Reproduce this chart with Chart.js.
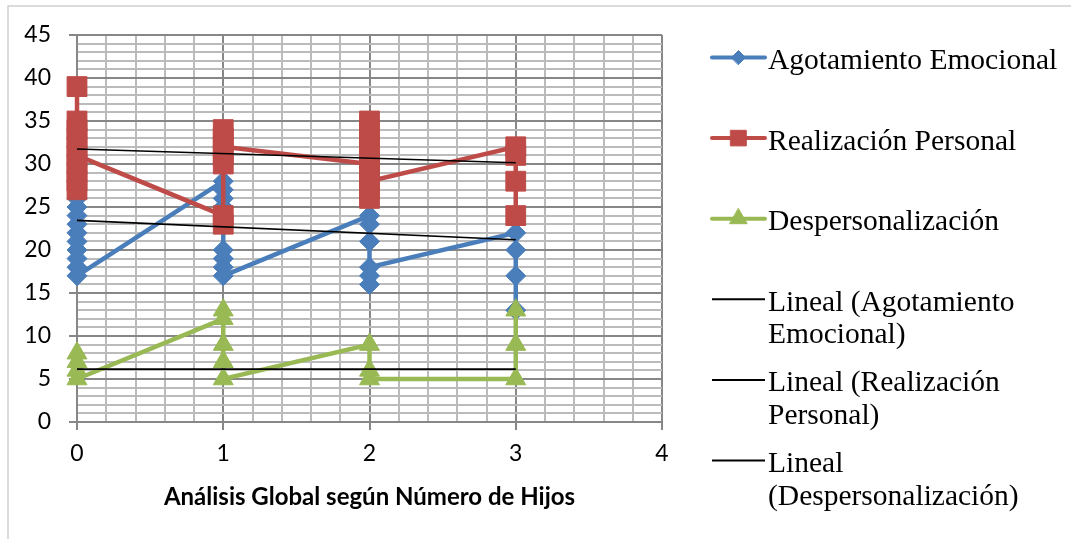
<!DOCTYPE html>
<html>
<head>
<meta charset="utf-8">
<script src="https://cdn.jsdelivr.net/npm/chart.js@4.4.1/dist/chart.umd.min.js"></script>
<style>
  html, body { margin: 0; padding: 0; background: #ffffff; }
  #wrap { width: 1071px; height: 539px; position: relative; }
</style>
</head>
<body>
<div id="wrap"><canvas id="chart" width="1071" height="539"></canvas></div>
<script>
// Number of children (x) and score (y) for each respondent, per burnout scale
const hijosAE   = [0,0,0,0,0,0,0,0,0,0, 1,1,1,1,1,1,1,1, 2,2,2,2,2,2, 3,3,3,3];
const valoresAE = [26,25,24,23,22,21,20,19,18,17, 28,27,26,25,20,19,18,17, 24,23,21,16,17,18, 22,20,17,13];

const hijosRP   = [0,0,0,0,0,0,0,0,0,0, 1,1,1,1,1,1,1, 2,2,2,2,2,2,2,2,2,2, 3,3,3,3];
const valoresRP = [39,35,34,33,32,30,29,28,27,31, 24,23,30,31,33,34,32, 30,35,34,33,32,31,29,27,26,28, 32,31,28,24];

const hijosDP   = [0,0,0,0, 1,1,1,1,1, 2,2,2, 3,3,3];
const valoresDP = [8,7,6,5, 12,13,9,7,5, 9,6,5, 5,9,13];

// Linear trend lines: endpoints at the first and last number of children
const hijosTendencia = [0, 3];
const tendenciaAE = [23.45, 21.2];
const tendenciaRP = [31.75, 30.15];
const tendenciaDP = [6.15, 6.15];

// Axis ticks
const ticksX = [0, 1, 2, 3, 4];
const ticksY = [0, 5, 10, 15, 20, 25, 30, 35, 40, 45];

const seriesNames = ['Agotamiento Emocional', 'Realización Personal', 'Despersonalización'];
const trendNames = ['Lineal (Agotamiento Emocional)', 'Lineal (Realización Personal)', 'Lineal (Despersonalización)'];
const ejeXTitulo = 'Análisis Global según Número de Hijos';

const AZUL = '#4a7ebb', ROJO = '#be4b48', VERDE = '#98b954';
const GRID_MAYOR = '#878787', GRID_MENOR = '#bbbbbb';

const puntos = (xs, ys) => xs.map((x, i) => ({ x: x, y: ys[i] }));
const esEntero = v => Math.abs(v - Math.round(v)) < 1e-6;

function serie(label, xs, ys, color, style, radius, order) {
  return {
    label: label,
    data: puntos(xs, ys),
    showLine: true,
    borderColor: color,
    backgroundColor: color,
    borderWidth: 4.5,
    pointStyle: style,
    pointRadius: radius,
    pointHoverRadius: radius,
    pointBackgroundColor: color,
    pointBorderColor: color,
    pointBorderWidth: 1,
    clip: false,
    order: order,
    legendMarker: { style: style }
  };
}

function tendencia(label, ys) {
  return {
    label: label,
    data: puntos(hijosTendencia, ys),
    showLine: true,
    borderColor: '#000000',
    backgroundColor: '#000000',
    borderWidth: 1.6,
    pointRadius: 0,
    pointHoverRadius: 0,
    clip: false,
    order: 0
  };
}

// Legend drawn to the right of the plot, wrapping long labels
const leyendaLateral = {
  id: 'leyendaLateral',
  afterDraw(chart) {
    const ctx = chart.ctx;
    const area = chart.chartArea;
    const xa = area.right + 50, xb = area.right + 103, tx = area.right + 106;
    const maxW = chart.width - tx - 3;
    ctx.save();
    ctx.font = '29.5px "Liberation Serif", "Times New Roman", serif';
    ctx.textAlign = 'left';
    ctx.textBaseline = 'alphabetic';
    chart.data.datasets.forEach((ds, i) => {
      const base = area.top + 34 + i * 80.6;
      const ly = base - 11.5;
      const isTrend = !ds.legendMarker;
      ctx.strokeStyle = ds.borderColor;
      ctx.lineWidth = isTrend ? 2 : 4;
      ctx.lineCap = isTrend ? 'butt' : 'round';
      ctx.beginPath();
      ctx.moveTo(xa, ly);
      ctx.lineTo(xb, ly);
      ctx.stroke();
      if (!isTrend) {
        const r = { rectRot: 7, rect: 11, triangle: 10 }[ds.legendMarker.style];
        ctx.fillStyle = ds.borderColor;
        ctx.strokeStyle = ds.borderColor;
        ctx.lineWidth = 1;
        Chart.helpers.drawPoint(ctx, { pointStyle: ds.legendMarker.style, radius: r, rotation: 0, borderWidth: 1 }, (xa + xb) / 2, ly);
      }
      // word wrap
      const words = ds.label.split(' ');
      const lines = [];
      let cur = '';
      words.forEach(w => {
        const test = cur ? cur + ' ' + w : w;
        if (cur && ctx.measureText(test).width > maxW) { lines.push(cur); cur = w; }
        else cur = test;
      });
      if (cur) lines.push(cur);
      ctx.fillStyle = '#000000';
      lines.forEach((t, k) => ctx.fillText(t, tx, base + k * 32.5));
    });
    ctx.restore();
  }
};

// Thin outer frame of the chart
const marco = {
  id: 'marco',
  beforeDraw(chart) {
    const ctx = chart.ctx;
    ctx.save();
    ctx.fillStyle = '#ffffff';
    ctx.fillRect(0, 0, chart.width, chart.height);
    ctx.strokeStyle = '#d0d0d0';
    ctx.lineWidth = 1.5;
    ctx.strokeRect(8, 6, chart.width + 20, chart.height + 20);
    ctx.restore();
  }
};

const fuenteEjes = { family: 'Lato, "Open Sans", sans-serif', size: 23 };

new Chart(document.getElementById('chart'), {
  type: 'scatter',
  data: {
    datasets: [
      serie(seriesNames[0], hijosAE, valoresAE, AZUL, 'rectRot', 10, 3),
      serie(seriesNames[1], hijosRP, valoresRP, ROJO, 'rect', 14, 2),
      serie(seriesNames[2], hijosDP, valoresDP, VERDE, 'triangle', 11.5, 1),
      tendencia(trendNames[0], tendenciaAE),
      tendencia(trendNames[1], tendenciaRP),
      tendencia(trendNames[2], tendenciaDP)
    ]
  },
  options: {
    responsive: false,
    animation: false,
    devicePixelRatio: 1,
    events: [],
    layout: { padding: { top: 35, right: 409, bottom: 0, left: 0 } },
    plugins: {
      legend: { display: false },
      tooltip: { enabled: false }
    },
    scales: {
      x: {
        type: 'linear',
        min: ticksX[0],
        max: ticksX[ticksX.length - 1],
        afterFit: s => { s.height = 117; },
        ticks: {
          stepSize: 0.2,
          autoSkip: false,
          maxRotation: 0,
          padding: 10,
          color: '#000000',
          font: fuenteEjes,
          callback: v => (esEntero(v) && ticksX.includes(Math.round(v))) ? String(Math.round(v)) : ''
        },
        grid: {
          lineWidth: 2,
          tickLength: 8,
          color: c => esEntero(c.tick.value) ? GRID_MAYOR : GRID_MENOR,
          tickColor: c => esEntero(c.tick.value) ? GRID_MAYOR : 'rgba(0,0,0,0)'
        },
        border: { color: GRID_MAYOR, width: 2 },
        title: {
          display: true,
          text: ejeXTitulo,
          color: '#000000',
          font: { family: 'Lato, "Open Sans", sans-serif', size: 24, weight: 'bold' },
          padding: { top: 0, bottom: 27 }
        }
      },
      y: {
        type: 'linear',
        min: ticksY[0],
        max: ticksY[ticksY.length - 1],
        afterFit: s => { s.width = 77; },
        ticks: {
          stepSize: 1,
          autoSkip: false,
          padding: 18,
          color: '#000000',
          font: fuenteEjes,
          callback: v => ticksY.includes(v) ? String(v) : ''
        },
        grid: {
          lineWidth: 2,
          tickLength: 8,
          color: c => (c.tick.value % 5 === 0) ? GRID_MAYOR : GRID_MENOR,
          tickColor: c => (c.tick.value % 5 === 0) ? GRID_MAYOR : 'rgba(0,0,0,0)'
        },
        border: { color: GRID_MAYOR, width: 2 }
      }
    }
  },
  plugins: [marco, leyendaLateral]
});
</script>
</body>
</html>
